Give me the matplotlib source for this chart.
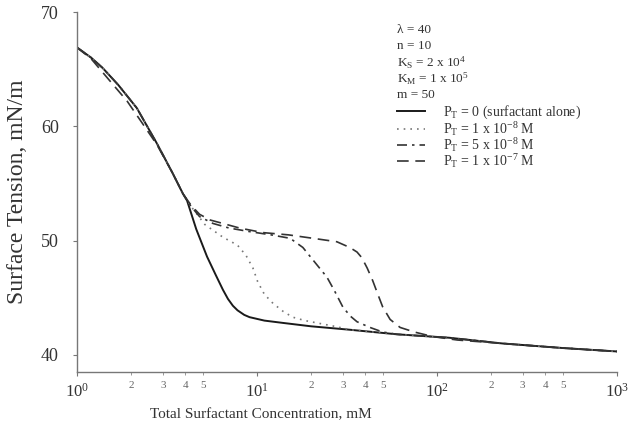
import numpy as np
import matplotlib
matplotlib.use("Agg")
import matplotlib.pyplot as plt
from matplotlib.ticker import FixedLocator, NullFormatter

plt.rcParams['font.family'] = ['Liberation Serif', 'DejaVu Serif']
plt.rcParams['mathtext.fontset'] = 'custom'
plt.rcParams['mathtext.rm'] = 'Liberation Serif'
plt.rcParams['mathtext.it'] = 'Liberation Serif:italic'

# surfactant alone (P_T = 0)
x_solid = [1, 1.2, 1.39, 1.7, 2.15, 2.78, 3.4, 3.88, 4.09, 4.6, 5.28, 5.9, 6.47, 6.9, 7.35,
           7.8, 8.5, 9.1, 11, 13.9, 20, 32.8, 60, 117, 231, 500, 1000]
y_solid = [66.9, 66.0, 65.1, 63.6, 61.6, 58.5, 55.9, 54.1, 53.5, 51.0, 48.6, 47.0, 45.7, 44.9, 44.3,
           43.9, 43.5, 43.3, 43.0, 42.8, 42.5, 42.2, 41.8, 41.5, 41.0, 40.6, 40.3]

# P_T = 1e-8 M
x_dot = [1, 1.2, 1.39, 1.7, 2.15, 2.78, 3.4, 3.88, 4.3, 5.14, 6.47, 7.8, 8.7, 9.5, 10.1,
         11, 12.3, 14, 15.8, 18.5, 21.5, 27, 33, 60, 117, 231, 500, 1000]
y_dot = [66.9, 66.0, 65.1, 63.6, 61.6, 58.5, 55.9, 54.1, 53.0, 51.4, 50.3, 49.6, 48.7, 47.6, 46.4,
         45.3, 44.5, 43.8, 43.3, 43.0, 42.8, 42.5, 42.2, 41.8, 41.5, 41.0, 40.6, 40.3]

# P_T = 5e-8 M
x_dashdot = [1, 1.2, 1.39, 1.7, 2.15, 2.78, 3.4, 3.88, 4.3, 4.8, 5.7, 7, 9, 12, 15.3, 18,
             20.5, 24.5, 27, 30, 33, 36, 42.5, 50, 60, 117, 231, 500, 1000]
y_dashdot = [66.9, 66.0, 65.1, 63.6, 61.6, 58.5, 55.9, 54.1, 53.0, 52.1, 51.5, 51.1, 50.8, 50.5, 50.2, 49.4,
             48.3, 46.8, 45.6, 44.2, 43.4, 42.9, 42.4, 42.0, 41.8, 41.5, 41.0, 40.6, 40.3]

# P_T = 1e-7 M
x_dash = [1, 1.2, 1.5, 1.9, 2.3, 2.78, 3.4, 3.88, 4.3, 4.8, 5.5, 6.47, 8, 10.8, 15, 20.5,
          27.8, 32.8, 36, 38.3, 41, 44, 47, 50, 55, 62.5, 75, 95, 130, 231, 500, 1000]
y_dash = [66.9, 65.9, 64.1, 62.2, 60.3, 58.4, 55.9, 54.1, 53.1, 52.3, 51.8, 51.5, 51.1, 50.7, 50.5, 50.2,
          49.9, 49.4, 49.0, 48.5, 47.6, 46.5, 45.3, 44.2, 43.1, 42.4, 42.0, 41.6, 41.3, 41.0, 40.6, 40.3]

series_labels = [r'P$_\mathrm{T}$ = 0 (surfactant alone)',
                 r'P$_\mathrm{T}$ = 1 x 10$^{-8}$ M',
                 r'P$_\mathrm{T}$ = 5 x 10$^{-8}$ M',
                 r'P$_\mathrm{T}$ = 1 x 10$^{-7}$ M']

param_labels = [u'\u03bb = 40', 'n = 10', r'K$_\mathrm{S}$ = 2 x 10$^4$',
                r'K$_\mathrm{M}$ = 1 x 10$^5$', 'm = 50']

y_ticks = [40, 50, 60, 70]
x_major = [1, 10, 100, 1000]
x_major_labels = [r'10$^0$', r'10$^1$', r'10$^2$', r'10$^3$']
minor_mult = [2, 3, 4, 5]

fig = plt.figure(figsize=(6.38, 4.24), dpi=100)
ax = fig.add_axes([0.1207, 0.1226, 0.846, 0.849])

ax.plot(x_solid, y_solid, color='#1a1a1a', lw=1.4, ls='-', label=series_labels[0])
ax.plot(x_dot, y_dot, color='#777777', lw=1.2, ls=(0, (1, 3)), label=series_labels[1])
ax.plot(x_dashdot, y_dashdot, color='#333333', lw=1.2, ls=(0, (6, 3, 1.5, 3)), label=series_labels[2])
ax.plot(x_dash, y_dash, color='#333333', lw=1.2, ls=(0, (7, 4)), label=series_labels[3])

ax.set_xscale('log')
ax.set_xlim(1, 1000)
ax.set_ylim(38.5, 70)

ax.set_yticks(y_ticks)
ax.set_yticklabels([str(v) for v in y_ticks], fontsize=13, color='#333333')
ax.tick_params(axis='y', length=3, width=0.8, color='#777777', pad=10)

ax.xaxis.set_major_locator(FixedLocator(x_major))
ax.set_xticklabels(x_major_labels, fontsize=12, color='#333333')
minor_pos = [d * m for d in x_major[:-1] for m in minor_mult]
ax.xaxis.set_minor_locator(FixedLocator(minor_pos))
ax.xaxis.set_minor_formatter(NullFormatter())
for p in minor_pos:
    ax.text(p, -0.025, str(int(round(p / 10 ** np.floor(np.log10(p))))),
            transform=ax.get_xaxis_transform(), ha='center', va='top',
            fontsize=8, color='#666666')
ax.tick_params(axis='x', which='major', length=3, width=0.8, color='#777777', pad=5)
ax.tick_params(axis='x', which='minor', length=2, width=0.6, color='#888888')

for s in ['top', 'right']:
    ax.spines[s].set_visible(False)
for s in ['left', 'bottom']:
    ax.spines[s].set_color('#777777')
    ax.spines[s].set_linewidth(1.0)
    ax.spines[s].set_linestyle((0, (2, 1)))

ax.set_ylabel('Surface Tension, mN/m', fontsize=17, color='#333333')
ax.yaxis.set_label_coords(-0.09, 0.5)
ax.set_xlabel('Total Surfactant Concentration, mM', fontsize=11, color='#333333')
ax.xaxis.set_label_coords(0.34, -0.1)

for i, t in enumerate(param_labels):
    ax.text(0.593, 0.95 - i * 0.045, t, transform=ax.transAxes, ha='left', va='center',
            fontsize=9.5, color='#333333')

ax.legend(loc='upper left', bbox_to_anchor=(0.593, 0.745), frameon=False, fontsize=10,
          handlelength=2.0, handletextpad=1.3, labelspacing=-0.12, borderpad=0,
          borderaxespad=0, labelcolor='#333333')

fig.savefig('out.png', dpi=100)
